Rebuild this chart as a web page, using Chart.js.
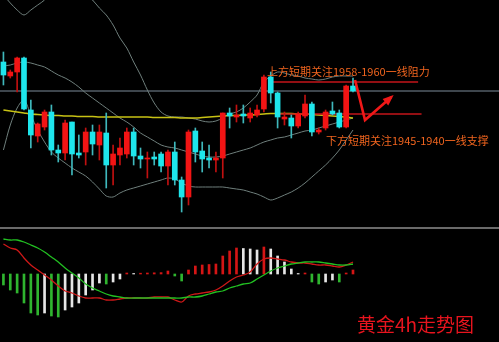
<!DOCTYPE html>
<html><head><meta charset="utf-8">
<script src="https://cdn.jsdelivr.net/npm/chart.js@4.4.0/dist/chart.umd.min.js"></script>
<style>
html,body{margin:0;padding:0;background:#000;width:499px;height:342px;overflow:hidden;}
#wrap{position:relative;width:499px;height:342px;background:#000;}
#c1{position:absolute;left:0;top:0;}
#c2{position:absolute;left:0;top:229px;}
#sep{position:absolute;left:0;top:227px;width:499px;height:2px;background:#6a6a6a;}
.t{position:absolute;font-family:"Noto Sans CJK SC","Noto Sans";white-space:nowrap;}
#t1{left:267px;top:66px;font-size:11px;line-height:11px;color:#f0641e;}
#t2{left:326px;top:135px;font-size:11px;line-height:11px;color:#f0641e;}
#t3{left:357px;top:314px;font-size:19px;line-height:20px;color:#e8141e;}
</style></head><body>
<div id="wrap">
<canvas id="c1" width="499" height="227"></canvas>
<div id="sep"></div>
<canvas id="c2" width="499" height="113"></canvas>
<div class="t" id="t1">上方短期关注1958-1960一线阻力</div>
<div class="t" id="t2">下方短期关注1945-1940一线支撑</div>
<div class="t" id="t3">黄金4h走势图</div>
</div>
<script>
// ---- price data (4h candles) ----
const opens  = [1969,1962,1964,1971,1945,1932,1936.5,1944,1925,1923.5,1939,1923.5,1924,1934,1927.5,1933.5,1917.5,1922.5,1923,1934,1922,1920.5,1921.5,1923,1917,1924,1910,1901.5,1934.5,1924.5,1921,1920,1921,1943.5,1941.5,1943,1941,1942.5,1945.5,1961.5,1953.5,1940.5,1941,1937,1942,1948,1934,1936,1944.5,1943.5,1936.5,1957];
const highs  = [1974,1965,1971.5,1971.5,1950,1938.5,1945,1947.5,1927.5,1940,1939,1932.5,1936,1937.5,1937.5,1943.5,1927.5,1931,1936,1936,1926,1924,1924,1924,1925,1929,1911.5,1935,1936,1929,1927.5,1924,1943.5,1946,1947.5,1947.5,1946,1947.5,1962.5,1964,1954,1944,1942.5,1944,1952.5,1949,1936,1945,1949,1945,1957.5,1961];
const lows   = [1957.5,1961,1954,1945,1926,1929,1935,1922.5,1919,1920,1912.5,1921,1917.5,1922.5,1920,1906,1907.5,1917.5,1921,1917.5,1916,1911,1917.5,1914,1907.5,1907.5,1894,1897.5,1919,1914,1916,1914,1911,1936,1939,1938.5,1939,1941.5,1944,1948.5,1936,1937.5,1931,1936,1941,1932,1933,1935,1942.5,1936,1936,1954];
const closes = [1962.5,1964,1971,1945.5,1932.5,1938,1944,1925,1923.5,1938.5,1923,1922.5,1934,1928,1934,1917.5,1923,1926,1934,1922,1920.5,1921,1920.5,1917,1924,1910,1901.5,1934,1924,1920.5,1920,1921,1943.5,1942,1942.5,1942,1943.5,1945,1961.5,1953.5,1941.5,1941.5,1937,1943,1948,1934,1935,1944,1943,1936.5,1957,1954.5];
const maLine  = [1945,1944.5,1944,1943.5,1943,1942.75,1942.5,1942.25,1942.25,1942,1942,1941.75,1941.75,1941.75,1941.5,1941.5,1941.5,1941.5,1941.5,1941.5,1941.5,1941.5,1941.25,1941.25,1941.25,1941.25,1941,1941,1941,1941.25,1941.5,1941.75,1942,1942.25,1942.25,1942.5,1942.5,1942.75,1943,1943.25,1943.25,1943.25,1943.25,1943,1943,1942.75,1942.5,1942.25,1942,1941.75,1941.5,1941];
const bbUpper = [2002.5,1998.5,1995,1992.5,1995,1997.5,2000,2004,2006,2007,2007,2006,2003,2000,1996,1992.5,1987.5,1981,1976,1969,1962.5,1955,1948.5,1944,1942,1941.5,1941.5,1941,1940.5,1939.5,1939,1939.5,1941,1943,1944,1946,1949,1952.5,1959,1962,1964,1963.5,1962.5,1962,1961,1960.5,1960,1960.5,1961.5,1962,1962,1962];
const bbMid   = [1967,1967.5,1968.5,1969,1968.5,1967.5,1966.5,1964.5,1962.5,1961,1959,1956.5,1953.5,1951,1948.5,1946,1943.5,1941,1939,1936.5,1933.5,1931.5,1929.5,1927.5,1926.5,1926,1925,1924,1923,1922,1921.5,1921.5,1922,1923,1924,1925,1926,1927.5,1929,1930,1931,1931.5,1932.5,1933.5,1934.5,1935,1936,1937,1938,1939,1940,1941];
const bbLower = [1925,1937.5,1946,1950,1942.5,1935,1929,1924,1921,1918.5,1916,1914,1912,1909,1905.5,1902,1901.5,1903.5,1905,1906,1907,1908,1909,1910,1911,1910.5,1908.5,1907,1906.5,1906.5,1906.5,1906.5,1906.5,1906,1905.5,1905,1904,1903,1901.5,1900,1901,1902.5,1904,1906,1908.5,1911.5,1914.5,1917.5,1921,1925,1930,1935];
// ---- reference levels / drawn arrow (index, price) ----
const refLine = 1954.5;
const resistance = [{x:39.0,y:1959},{x:60.5,y:1959}];
const support = [{x:40.0,y:1943},{x:61.0,y:1943}];
const arrowPath = [{x:51.3,y:1960},{x:52.75,y:1940},{x:56.6,y:1951.5}];
// ---- MACD panel ----
const macdHist   = [-11,-16,-19,-29,-39,-41,-39,-42,-43,-36,-33,-29,-21,-16,-9,-10,-8,-5,1,0.5,0.8,1,1.2,1.4,3,-2,-7,4,8,9,9.5,10,18,23,26,25.5,25,24,27,25,18,12,5,0.5,1,-8,-10,-8,-6,-8,1,4];
const macdMain   = [30,26,24,16,9,4,-1,-6,-12,-17,-19,-22,-24,-24,-24,-26,-26,-25,-24,-24,-24,-24,-23,-23,-23,-26,-28,-22,-20,-19,-18,-16,-12,-7,-3,-1,2,10,15,16,15,14,12,11,11,10,9,9,8,7,9,12];
const macdSignal = [35,34,34,32,29,26,22,17,12,6,1,-4,-10,-14,-17,-20,-22,-23,-24,-24,-24,-24,-24,-24,-24,-24,-24,-23,-23,-22,-20,-18,-17,-14,-12,-10,-9,-5,-1,3,6,8,10,11,12,12,12,11,10,9,9,10];

const idx = opens.map((_, i) => i);
const UP = '#f21414', DOWN = '#1ee6ec';
const bodyColors = idx.map(i => closes[i] >= opens[i] ? UP : DOWN);
const wickColors = idx.map(i => closes[i] >= opens[i] ? '#c01010' : '#3fb8bc');
const histColors = macdHist.map((v, i) => {
  const prev = i === 0 ? 0 : macdHist[i - 1];
  if (v > prev && v > 0) return '#d41515';
  if (v < prev && v < 0) return '#2fb52f';
  return '#e6e6e6';
});

const xScale = {type:'linear', min:-0.5, max:72.3, display:false, offset:false, grid:{offset:false}};

const arrowHead = {
  id:'arrowHead',
  afterDatasetsDraw(chart){
    const meta = chart.getDatasetMeta(chart.data.datasets.findIndex(d => d.label === 'arrow'));
    const pts = meta.data; if (pts.length < 2) return;
    const a = pts[pts.length-2], b = pts[pts.length-1];
    const ang = Math.atan2(b.y - a.y, b.x - a.x);
    const ctx = chart.ctx; ctx.save();
    ctx.fillStyle = '#f01818';
    ctx.beginPath();
    ctx.moveTo(b.x + Math.cos(ang)*3, b.y + Math.sin(ang)*3);
    ctx.lineTo(b.x - Math.cos(ang - 0.5)*9, b.y - Math.sin(ang - 0.5)*9);
    ctx.lineTo(b.x - Math.cos(ang + 0.5)*9, b.y - Math.sin(ang + 0.5)*9);
    ctx.closePath(); ctx.fill(); ctx.restore();
  }
};

const line = (label, data, color, width, order, extra) => Object.assign({
  type:'line', label, data, borderColor:color, borderWidth:width, pointRadius:0,
  tension:0.3, fill:false, order
}, extra || {});

new Chart(document.getElementById('c1'), {
  type:'bar',
  data:{ datasets:[
    line('refLine', [{x:-0.5,y:refLine},{x:72.3,y:refLine}], '#7d8c9a', 1, 20, {tension:0}),
    line('bbUpper', idx.map(i => ({x:i, y:bbUpper[i]})), '#6f7f7c', 1, 15),
    line('bbMid', idx.map(i => ({x:i, y:bbMid[i]})), '#6f7f7c', 1, 15),
    line('bbLower', idx.map(i => ({x:i, y:bbLower[i]})), '#6f7f7c', 1, 15),
    line('ma', idx.map(i => ({x:i, y:maLine[i]})), '#c8c214', 1.6, 12),
    line('resistance', resistance, '#c4141a', 1.5, 11, {tension:0}),
    line('support', support, '#c4141a', 1.5, 11, {tension:0}),
    {type:'bar', label:'wick', data: idx.map(i => ({x:i, y:[lows[i], highs[i]]})),
      backgroundColor: wickColors, barThickness:1, grouped:false, order:6},
    {type:'bar', label:'body', data: idx.map(i => ({x:i, y:[opens[i], closes[i]]})),
      backgroundColor: bodyColors, barThickness:5, grouped:false, minBarLength:1, order:5},
    line('arrow', arrowPath, '#f01818', 2.6, 1, {tension:0})
  ]},
  options:{
    responsive:false, animation:false, events:[],
    layout:{padding:0},
    plugins:{legend:{display:false}, tooltip:{enabled:false}},
    scales:{ x:xScale, y:{type:'linear', min:1886.5, max:2000, display:false} }
  },
  plugins:[arrowHead]
});

new Chart(document.getElementById('c2'), {
  type:'bar',
  data:{ datasets:[
    {type:'bar', label:'hist', data: idx.map(i => ({x:i, y:macdHist[i]})),
      backgroundColor: histColors, barThickness:2, grouped:false, order:5},
    line('macd', idx.map(i => ({x:i, y:macdMain[i]})), '#d01818', 1.3, 2),
    line('signal', idx.map(i => ({x:i, y:macdSignal[i]})), '#22c022', 1.3, 1)
  ]},
  options:{
    responsive:false, animation:false, events:[],
    layout:{padding:0},
    plugins:{legend:{display:false}, tooltip:{enabled:false}},
    scales:{ x:xScale, y:{type:'linear', min:-68, max:45, display:false} }
  }
});
</script>
</body></html>
